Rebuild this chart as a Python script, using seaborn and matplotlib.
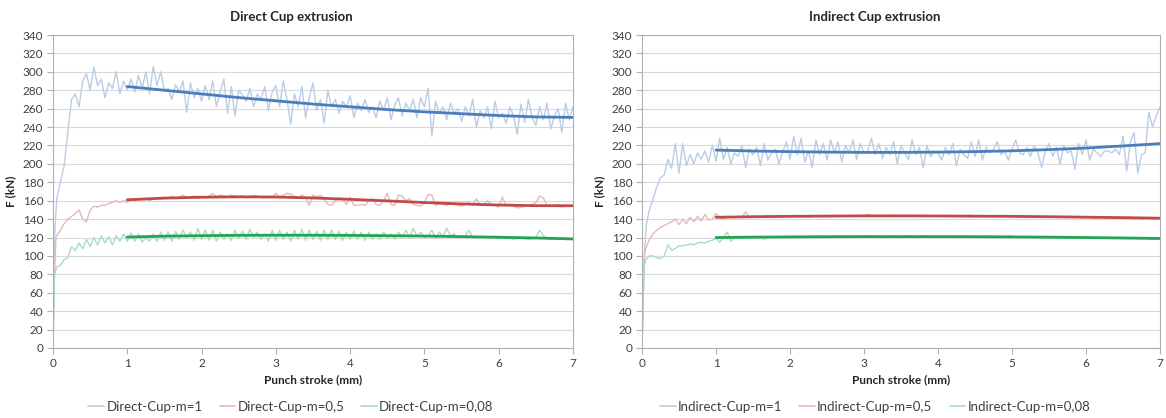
import numpy as np
import pandas as pd
import matplotlib
matplotlib.use("Agg")
import matplotlib.pyplot as plt
import seaborn as sns
from matplotlib.lines import Line2D

# ---------------- data ----------------
# Direct cup, m=1 : ramp then noisy part (step 0.05 from 0.30 to 7.00)
d1_ramp_x = [0, 0.02, 0.05, 0.1, 0.15, 0.2, 0.25]
d1_ramp_y = [0, 120, 162, 180, 198, 235, 270]
d1_vals = [
    276, 262, 290, 298, 280, 305, 285, 292, 272, 288,
    282, 300, 276, 290, 280, 292, 278, 296, 282, 300,
    276, 306, 285, 300, 279, 282, 270, 286, 278, 290,
    256, 288, 272, 282, 268, 285, 270, 290, 262, 278,
    292, 255, 284, 252, 280, 275, 268, 282, 262, 276,
    270, 284, 258, 278, 285, 262, 290, 270, 243, 276,
    262, 284, 250, 272, 288, 258, 270, 244, 280, 262,
    270, 255, 268, 262, 274, 250, 266, 258, 270, 256,
    262, 250, 268, 258, 272, 248, 264, 272, 252, 266,
    258, 270, 250, 272, 262, 282, 230, 268, 255, 262,
    248, 266, 255, 260, 246, 262, 252, 270, 240, 258,
    250, 262, 238, 268, 250, 255, 244, 262, 252, 232,
    265, 245, 270, 250, 242, 262, 248, 266, 238, 252,
    260, 234, 266, 248, 262]

# Direct cup, m=0.5 (step 0.05 from 0.05 to 7.00)
d05_ramp_x = [0, 0.02, 0.04]
d05_ramp_y = [0, 80, 120]
d05_vals = [
    122, 128, 135, 140, 143, 146, 150, 140, 137, 150,
    154, 153, 155, 155, 157, 158, 160, 158, 160, 158,
    161, 160, 162, 161, 163, 160, 162, 163, 162, 164,
    163, 165, 162, 164, 166, 163, 164, 165, 163, 164,
    163, 165, 168, 164, 166, 165, 164, 166, 165, 164,
    165, 163, 164, 166, 165, 164, 163, 165, 164, 168,
    164, 166, 168, 167, 165, 163, 166, 164, 155, 166,
    164, 166, 162, 156, 155, 160, 163, 162, 156, 164,
    155, 155, 156, 155, 160, 162, 156, 155, 160, 168,
    156, 155, 166, 165, 160, 162, 156, 155, 154, 158,
    167, 166, 155, 157, 156, 155, 157, 156, 155, 154,
    156, 158, 155, 162, 155, 156, 160, 156, 155, 153,
    164, 155, 156, 154, 152, 153, 154, 155, 156, 158,
    165, 163, 155, 154, 155, 156, 153, 155, 154, 156]

# Direct cup, m=0.08 (step 0.05 from 0.05 to 7.00)
d008_ramp_x = [0, 0.02, 0.04]
d008_ramp_y = [0, 78, 86]
d008_vals = [
    88, 90, 96, 98, 110, 106, 114, 108, 118, 110,
    120, 112, 122, 114, 121, 112, 122, 116, 124, 116,
    125, 116, 124, 115, 120, 116, 124, 116, 126, 117,
    126, 116, 127, 118, 128, 120, 126, 117, 130, 118,
    128, 117, 128, 116, 126, 118, 124, 117, 128, 119,
    127, 118, 129, 120, 126, 118, 124, 116, 128, 117,
    128, 118, 126, 116, 128, 118, 129, 117, 128, 118,
    127, 117, 128, 118, 128, 118, 127, 117, 126, 118,
    127, 118, 126, 117, 126, 118, 124, 118, 126, 119,
    124, 118, 126, 120, 128, 120, 130, 121, 126, 120,
    122, 128, 119, 126, 121, 130, 122, 124, 120, 121,
    122, 128, 120, 119, 121, 120, 119, 120, 121, 119,
    120, 119, 120, 118, 119, 120, 119, 118, 119, 120,
    128, 122, 119, 118, 119, 118, 119, 118, 118, 118]

# Indirect cup, m=1 (step 0.05 from 0.30 to 7.00)
i1_ramp_x = [0, 0.03, 0.06, 0.1, 0.15, 0.2, 0.25]
i1_ramp_y = [0, 100, 135, 150, 162, 175, 185]
i1_vals = [
    188, 205, 195, 222, 190, 222, 198, 210, 200, 212,
    205, 214, 202, 220, 203, 228, 205, 218, 200, 212,
    208, 220, 196, 216, 210, 218, 198, 222, 204, 212,
    216, 200, 212, 224, 205, 230, 210, 228, 202, 214,
    196, 226, 210, 222, 204, 226, 212, 224, 202, 220,
    212, 226, 205, 222, 212, 214, 228, 210, 222, 206,
    218, 210, 224, 200, 220, 212, 205, 226, 210, 218,
    196, 220, 208, 214, 212, 204, 218, 210, 222, 198,
    216, 210, 206, 224, 208, 226, 204, 218, 212, 216,
    224, 210, 214, 204, 216, 226, 212, 210, 218, 208,
    220, 212, 196, 214, 222, 208, 218, 200, 220, 212,
    214, 194, 222, 210, 226, 204, 216, 212, 208, 214,
    214, 212, 216, 210, 230, 192, 224, 234, 190, 210,
    212, 256, 240, 252, 262]

# Indirect cup, m=0.5 (step 0.05 from 0.05 to 7.00)
i05_ramp_x = [0, 0.03]
i05_ramp_y = [0, 100]
i05_vals = [
    108, 118, 124, 128, 131, 133, 135, 137, 140, 134,
    140, 135, 142, 137, 143, 138, 145, 139, 140, 146,
    142, 140, 143, 142, 142, 143, 142, 148, 142, 143,
    143, 142, 143, 144, 143, 142, 143, 143, 144, 143,
    143, 144, 143, 143, 142, 144, 143, 143, 144, 143,
    143, 144, 143, 144, 143, 143, 144, 143, 144, 144,
    145, 144, 143, 144, 144, 143, 144, 144, 143, 144,
    144, 143, 144, 144, 143, 144, 144, 143, 144, 143,
    144, 143, 144, 144, 143, 144, 143, 144, 144, 143,
    143, 144, 143, 143, 144, 143, 143, 144, 143, 143,
    143, 142, 143, 143, 142, 143, 143, 142, 143, 142,
    142, 143, 142, 142, 143, 142, 142, 143, 142, 142,
    142, 141, 142, 142, 141, 142, 141, 142, 141, 141,
    141, 142, 141, 141, 140, 141, 141, 140, 141, 141]

# Indirect cup, m=0.08 (step 0.05 from 0.05 to 7.00)
i008_ramp_x = [0, 0.03]
i008_ramp_y = [0, 88]
i008_vals = [
    96, 100, 100, 98, 97, 100, 112, 106, 108, 111,
    111, 112, 113, 112, 114, 115, 114, 116, 117, 119,
    115, 120, 126, 116, 120, 120, 121, 120, 121, 120,
    121, 120, 118, 121, 120, 121, 121, 120, 121, 121,
    121, 120, 121, 121, 120, 121, 121, 122, 121, 121,
    121, 122, 121, 121, 122, 121, 121, 122, 121, 121,
    122, 121, 121, 122, 121, 121, 122, 121, 121, 121,
    121, 122, 121, 121, 121, 122, 121, 121, 121, 121,
    121, 121, 122, 121, 121, 121, 121, 122, 121, 121,
    121, 121, 121, 122, 121, 121, 121, 121, 122, 121,
    121, 121, 120, 121, 121, 120, 121, 120, 121, 120,
    120, 121, 120, 120, 120, 119, 120, 120, 120, 120,
    120, 119, 120, 120, 119, 120, 119, 119, 120, 119,
    119, 119, 120, 119, 119, 119, 119, 118, 119, 119]

# Trend lines (1 .. 7 mm, step 0.5)
trend_x = [1, 1.5, 2, 2.5, 3, 3.5, 4, 4.5, 5, 5.5, 6, 6.5, 7]
d1_trend = [284, 280, 276, 272, 268.5, 265, 262, 259, 256.5, 254.5, 252.5, 251, 250.5]
d05_trend = [161, 162.8, 163.8, 164.2, 164, 163, 161.5, 159.8, 158, 156.5, 155.3, 154.6, 154.5]
d008_trend = [120.5, 121.5, 122, 122.4, 122.5, 122.5, 122.3, 122, 121.6, 121, 120.3, 119.5, 118.5]
i1_trend = [215, 214, 213.3, 212.8, 212.5, 212.5, 212.8, 213.3, 214.2, 215.5, 217.2, 219.5, 222]
i05_trend = [142, 142.6, 143, 143.3, 143.5, 143.5, 143.4, 143.2, 143, 142.6, 142.1, 141.6, 141]
i008_trend = [120, 120.4, 120.7, 120.9, 121, 121, 121, 120.9, 120.7, 120.4, 120, 119.5, 119]

titles = ["Direct Cup extrusion", "Indirect Cup extrusion"]
labels_direct = ["Direct-Cup-m=1", "Direct-Cup-m=0,5", "Direct-Cup-m=0,08"]
labels_indirect = ["Indirect-Cup-m=1", "Indirect-Cup-m=0,5", "Indirect-Cup-m=0,08"]
x_label = "Punch stroke (mm)"
y_label = "F (kN)"
y_ticks = list(range(0, 341, 20))
x_ticks = list(range(0, 8))

# ---------------- style ----------------
sns.set_style("white")
plt.rcParams["font.family"] = ["Lato", "DejaVu Sans"]

light = ["#b9cde5", "#e6b9b8", "#a6dfbe"]
dark = ["#4a7ebb", "#be4b48", "#22a455"]


def build(ramp_x, ramp_y, vals, start):
    xs = np.round(start + 0.05 * np.arange(len(vals)), 3)
    return pd.DataFrame({"x": list(ramp_x) + list(xs), "y": list(ramp_y) + list(vals)})


fig = plt.figure(figsize=(11.66, 4.18), dpi=100)
ax_l = fig.add_axes([53 / 1166, 70 / 418, 520 / 1166, 313 / 418])
ax_r = fig.add_axes([642 / 1166, 70 / 418, 518 / 1166, 313 / 418])

sets = [
    (ax_l, [build(d1_ramp_x, d1_ramp_y, d1_vals, 0.30),
            build(d05_ramp_x, d05_ramp_y, d05_vals, 0.05),
            build(d008_ramp_x, d008_ramp_y, d008_vals, 0.05)],
     [d1_trend, d05_trend, d008_trend], labels_direct, titles[0], 291),
    (ax_r, [build(i1_ramp_x, i1_ramp_y, i1_vals, 0.30),
            build(i05_ramp_x, i05_ramp_y, i05_vals, 0.05),
            build(i008_ramp_x, i008_ramp_y, i008_vals, 0.05)],
     [i1_trend, i05_trend, i008_trend], labels_indirect, titles[1], 875),
]

for ax, dfs, trends, labels, title, cx in sets:
    for df, c in zip(dfs, light):
        sns.lineplot(data=df, x="x", y="y", ax=ax, color=c, lw=1.0,
                     estimator=None, sort=False, legend=False)
    for tr, c in zip(trends, dark):
        sns.lineplot(x=trend_x, y=tr, ax=ax, color=c, lw=2.0,
                     estimator=None, legend=False)
    ax.set_xlim(0, 7)
    ax.set_ylim(0, 340)
    ax.set_xticks(x_ticks)
    ax.set_yticks(y_ticks)
    ax.grid(axis="y", color="#d9d9d9", lw=0.8)
    ax.grid(axis="x", visible=False)
    ax.set_axisbelow(True)
    for s in ax.spines.values():
        s.set_color("#b0b0b0")
        s.set_linewidth(0.8)
    ax.tick_params(axis="both", which="both", length=4, width=0.8, color="#b0b0b0",
                   labelsize=8.5, labelcolor="#404040", pad=3, direction="out",
                   left=True, bottom=True)
    ax.set_xlabel(x_label, fontsize=8.5, fontweight="bold", color="#262626", labelpad=4)
    ax.set_ylabel(y_label, fontsize=8.5, fontweight="bold", color="#262626", labelpad=5)
    fig.text(cx / 1166, 1 - 17 / 418, title, ha="center", va="center",
             fontsize=9.5, fontweight="bold", color="#262626")
    handles = [Line2D([0], [0], color=c, lw=1.2) for c in light]
    fig.legend(handles, labels, loc="center", bbox_to_anchor=(cx / 1166, 11 / 418),
               ncol=3, frameon=False, fontsize=9.5, handlelength=1.2,
               handletextpad=0.15, columnspacing=1.3, labelcolor="#404040")

fig.savefig("out.png", dpi=100)
